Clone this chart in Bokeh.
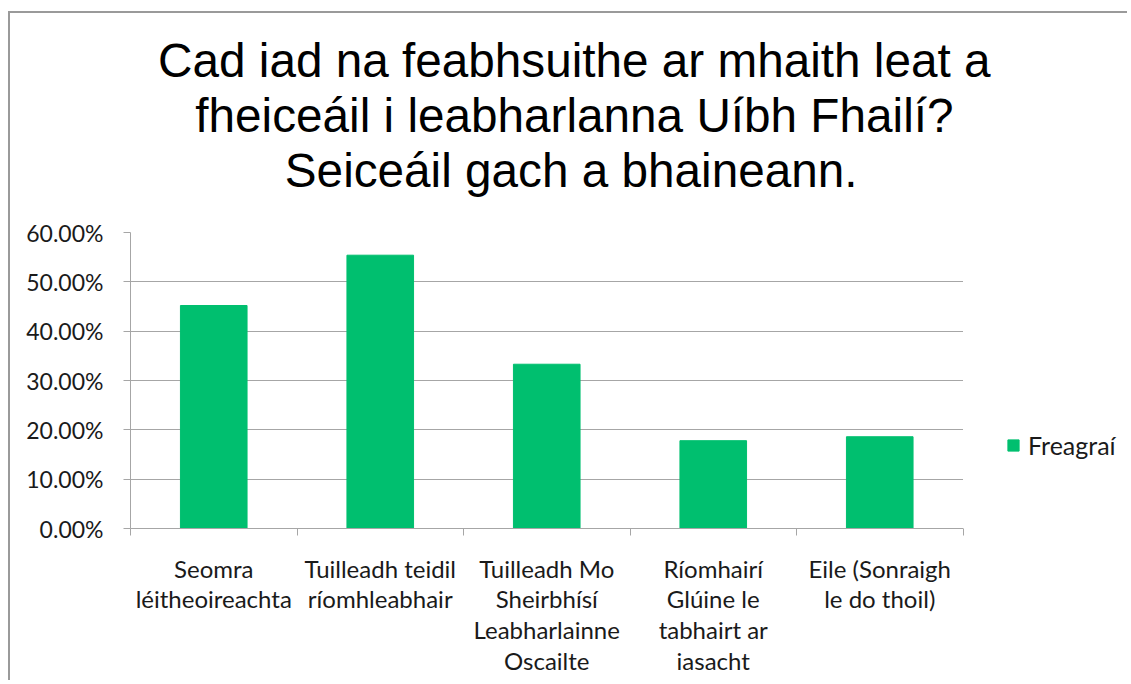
from bokeh.plotting import figure
from bokeh.models import (Range1d, FixedTicker, NumeralTickFormatter, Legend, LegendItem,
                          Title, BoxAnnotation)
from bokeh.embed import file_html
from bokeh.resources import INLINE

# ---- data ----
categories = [
    "Seomra\nléitheoireachta",
    "Tuilleadh teidil\nríomhleabhair",
    "Tuilleadh Mo\nSheirbhísí\nLeabharlainne\nOscailte",
    "Ríomhairí\nGlúine le\ntabhairt ar\niasacht",
    "Eile (Sonraigh\nle do thoil)",
]
values = [0.452, 0.554, 0.333, 0.178, 0.186]
series_name = "Freagraí"
y_ticks = [0.0, 0.1, 0.2, 0.3, 0.4, 0.5, 0.6]
title_lines = [
    "Cad iad na feabhsuithe ar mhaith leat a",
    "fheiceáil i leabharlanna Uíbh Fhailí?",
    "Seiceáil gach a bhaineann.",
]
# right-edge inset of each title line from the right edge of the drawing area (px)
title_offsets = [139, 176, 272]

GREEN = "#00bf6f"
GRAY = "#a6a6a6"
TEXT = "#1a1a1a"

n = len(categories)
positions = [i + 0.5 for i in range(n)]

# the drawing area continues one category-width to the right to hold the legend
p = figure(
    width=1119, height=669,
    x_range=Range1d(0, n + 1), y_range=Range1d(0, 0.6),
    output_backend="svg", toolbar_location=None, title_location=None,
    min_border_left=120, min_border_right=0,
    min_border_top=219, min_border_bottom=154,
)
p.margin = (11, 0, 0, 8)
p.styles = {"border-top": "2px solid #9a9a9a", "border-left": "2px solid #9a9a9a"}
p.outline_line_color = None

r = p.vbar(x=positions, top=values, width=0.4, fill_color=GREEN, line_color=GREEN)

# title: spacer nearest the frame, then lines from bottom to top
p.add_layout(Title(text=" ", text_font="Liberation Sans", text_font_size="20px",
                   standoff=12), "above")
for txt, off in reversed(list(zip(title_lines, title_offsets))):
    p.add_layout(Title(text=txt, align="right", offset=off, vertical_align="bottom",
                       standoff=0, text_font="Liberation Sans",
                       text_font_size="47.7px", text_font_style="normal",
                       text_color="black"), "above")

# x axis
p.xaxis.bounds = (0, n)
p.xaxis.ticker = FixedTicker(ticks=positions, minor_ticks=list(range(n + 1)))
p.xaxis.major_label_overrides = {pos: lab for pos, lab in zip(positions, categories)}
p.xaxis.major_tick_line_color = None
p.xaxis.major_tick_out = 0
p.xaxis.major_tick_in = 0
p.xaxis.minor_tick_out = 7
p.xaxis.minor_tick_in = 0
p.xaxis.minor_tick_line_color = GRAY
p.xaxis.axis_line_color = GRAY
p.xaxis.major_label_text_font = "Lato"
p.xaxis.major_label_text_font_size = "24px"
p.xaxis.major_label_text_color = TEXT
p.xaxis.major_label_text_line_height = 1.065
p.xaxis.major_label_standoff = 18
p.xaxis.major_label_orientation = "horizontal"

# y axis
p.yaxis.ticker = FixedTicker(ticks=y_ticks, minor_ticks=[])
p.yaxis.formatter = NumeralTickFormatter(format="0.00%")
p.yaxis.major_tick_out = 7
p.yaxis.major_tick_in = 0
p.yaxis.major_tick_line_color = GRAY
p.yaxis.minor_tick_line_color = None
p.yaxis.axis_line_color = GRAY
p.yaxis.major_label_text_font = "Lato"
p.yaxis.major_label_text_font_size = "23px"
p.yaxis.major_label_text_color = TEXT
p.yaxis.major_label_standoff = 20

p.xgrid.grid_line_color = None
p.ygrid.grid_line_color = GRAY
p.ygrid.ticker = FixedTicker(ticks=y_ticks)

# keep the gridlines inside the category area (legend area stays blank)
p.add_layout(BoxAnnotation(left=n, fill_color="white", fill_alpha=1.0,
                           line_alpha=0))

legend = Legend(items=[LegendItem(label=series_name, renderers=[r])],
                location=(876, 68), orientation="vertical",
                glyph_width=14, glyph_height=14, label_height=20,
                label_standoff=8, padding=0, spacing=0, margin=0,
                border_line_color=None, background_fill_alpha=0,
                label_text_font="Lato", label_text_font_size="25px",
                label_text_color=TEXT)
p.add_layout(legend)

open("out.html", "w").write(file_html(p, INLINE))
